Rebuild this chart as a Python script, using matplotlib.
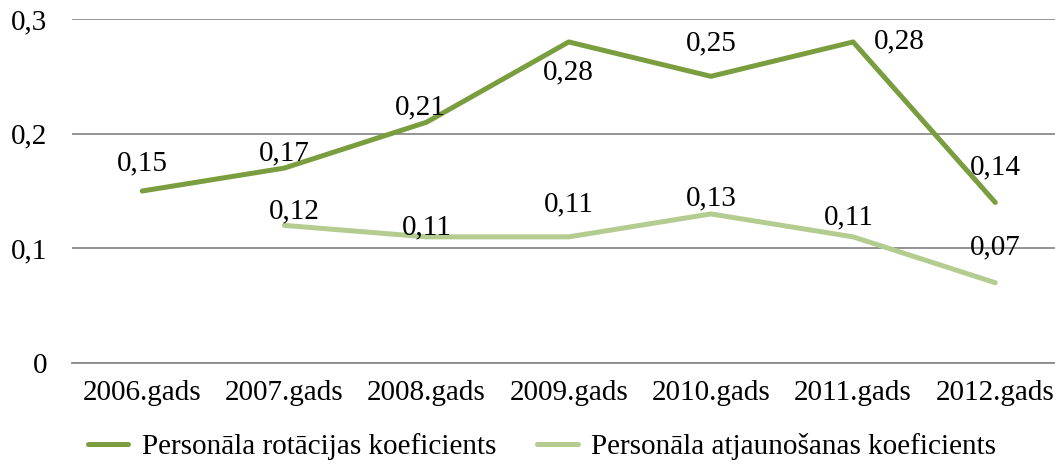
import matplotlib.pyplot as plt
import numpy as np

years = ['2006.gads', '2007.gads', '2008.gads', '2009.gads', '2010.gads', '2011.gads', '2012.gads']
rotacija = [0.15, 0.17, 0.21, 0.28, 0.25, 0.28, 0.14]
atjaunosana = [np.nan, 0.12, 0.11, 0.11, 0.13, 0.11, 0.07]
names = ['Personāla rotācijas koeficients', 'Personāla atjaunošanas koeficients']

# label offsets in pixels (picked by eye)
off_rot = [(0, 28), (0, 15), (-6, 15), (0, -30), (0, 33), (46, 1), (0, 35)]
off_atj = [None, (10, 14), (0, 9), (0, 32), (0, 16), (-4, 19), (0, 35)]

dark = '#7A9E3F'
light = '#B4CC8F'
serif = ['Liberation Serif', 'DejaVu Serif']
fs = 21

fig, ax = plt.subplots(figsize=(10.55, 4.7), dpi=100)
fig.subplots_adjust(left=72/1055, right=1.0, top=1-19/470, bottom=1-363/470)

x = np.arange(len(years))
l1, = ax.plot(x, rotacija, color=dark, lw=3.6, solid_capstyle='round', label=names[0])
l2, = ax.plot(x, atjaunosana, color=light, lw=3.6, solid_capstyle='round', label=names[1])

def fmt(v):
    return ('%.2f' % v).replace('.', ',')

for xi, v, o in zip(x, rotacija, off_rot):
    ax.annotate(fmt(v), (xi, v), xytext=o, textcoords='offset pixels',
                ha='center', va='center', fontsize=fs, family=serif)
for xi, v, o in zip(x, atjaunosana, off_atj):
    if o is None:
        continue
    ax.annotate(fmt(v), (xi, v), xytext=o, textcoords='offset pixels',
                ha='center', va='center', fontsize=fs, family=serif)

ax.set_xlim(-0.494, 6.42)
ax.set_ylim(0, 0.3)
ax.set_yticks([0, 0.1, 0.2, 0.3])
ax.set_yticklabels(['0', '0,1', '0,2', '0,3'], family=serif, fontsize=fs)
ax.set_xticks(x)
ax.set_xticklabels(years, family=serif, fontsize=fs)
ax.tick_params(axis='both', length=0)
ax.tick_params(axis='y', pad=18)
ax.tick_params(axis='x', pad=12)
ax.grid(axis='y', color='#8c8c8c', lw=1.3)
ax.set_axisbelow(True)
for s in ['top', 'left', 'right']:
    ax.spines[s].set_visible(False)
ax.spines['bottom'].set_color('#8c8c8c')
ax.spines['bottom'].set_linewidth(1.3)

fig.legend(handles=[l1, l2], loc='center left', bbox_to_anchor=(73/1055, 1-447/470), ncol=2,
           frameon=False, handlelength=1.4, handletextpad=0.45, columnspacing=1.4,
           borderpad=0, prop={'family': serif, 'size': fs})

fig.savefig('out.png', dpi=100)
